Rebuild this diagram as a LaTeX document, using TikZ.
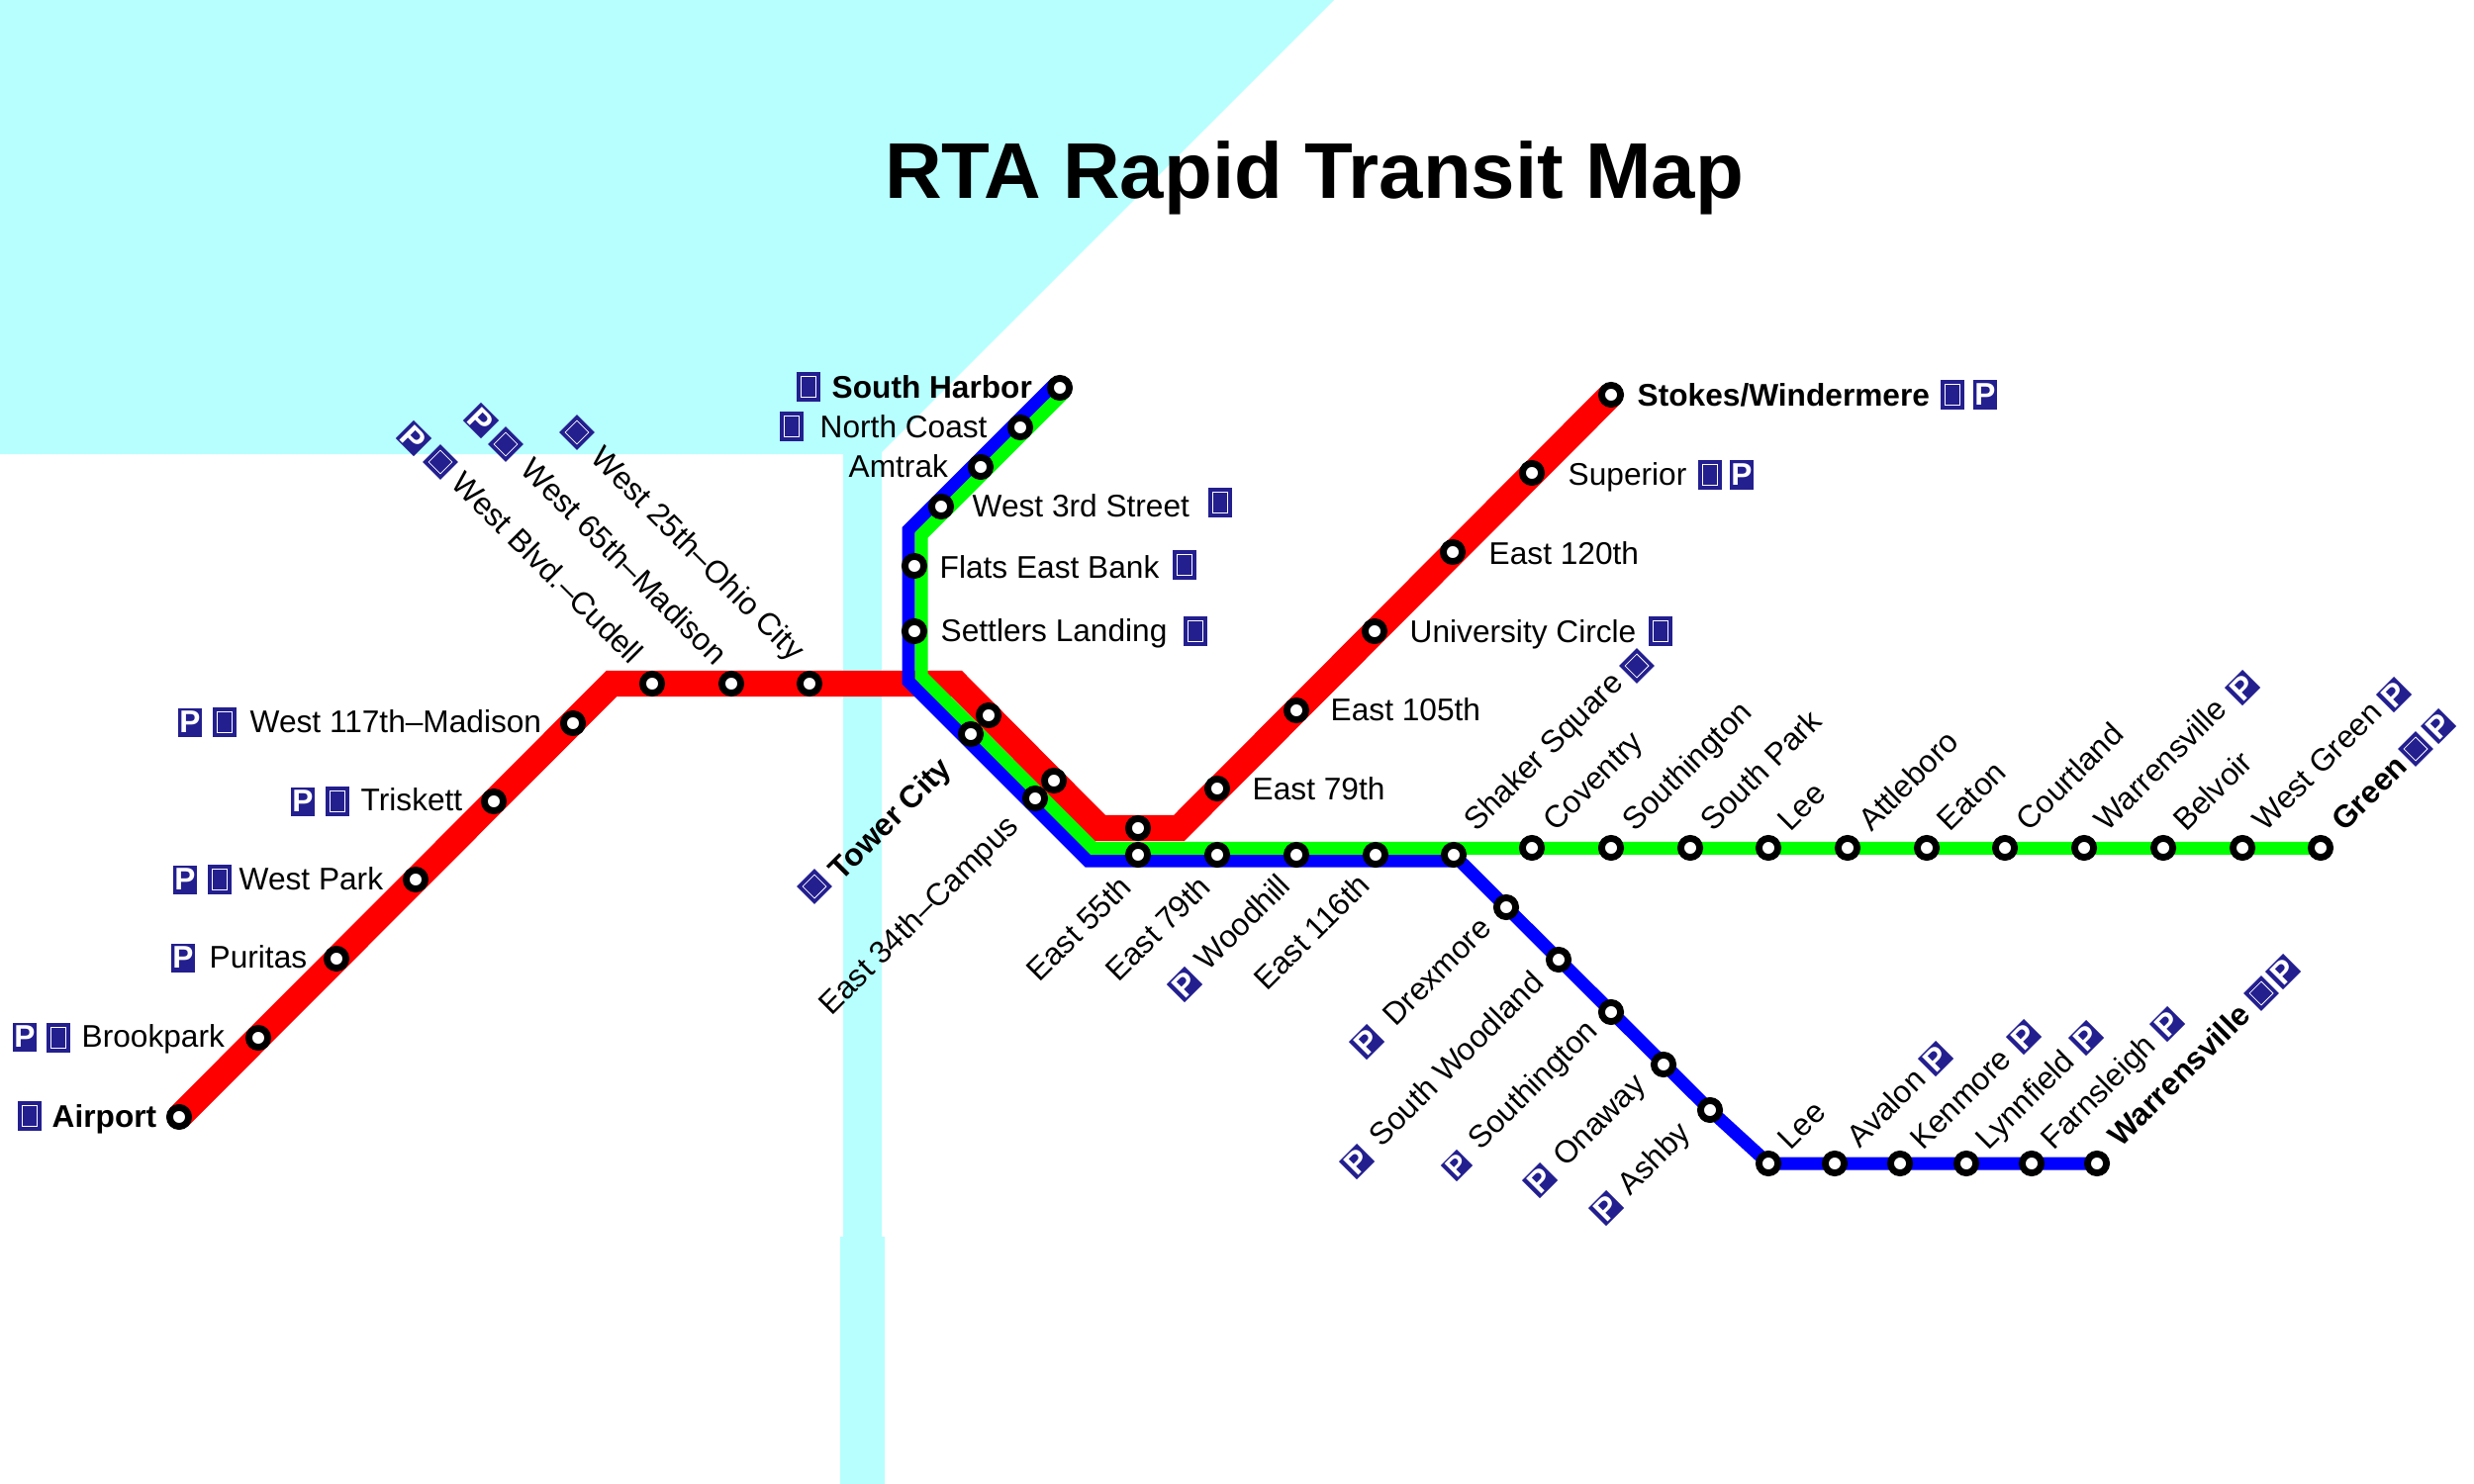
\documentclass[tikz,border=0pt]{standalone}
\usepackage{fontspec}
\setmainfont{Liberation Sans}
\usetikzlibrary{backgrounds,positioning}
\definecolor{waterc}{HTML}{B7FFFF}
\definecolor{iconc}{HTML}{231F8F}
\tikzset{
  station/.style={circle, draw=black, fill=white, line width=1.95pt, minimum size=5.45pt, inner sep=0pt},
  lab/.style={anchor=base west, inner sep=0pt, font=\fontsize{9}{11}\selectfont},
  labup/.style={lab, rotate=45},
  labdown/.style={lab, rotate=-45},
  tkt/.style={rectangle, fill=iconc, draw=iconc, double=white, double distance=.22pt, line width=1.1pt, inner sep=0pt, minimum width=4.4pt, minimum height=5.85pt},
  tktd/.style={tkt, minimum width=4.8pt, minimum height=4.8pt},
  park/.style={rectangle, fill=iconc, text=white, inner sep=0pt, minimum width=6.83pt, minimum height=8.25pt, font=\fontsize{9}{9}\selectfont\bfseries},
  parkd/.style={park, minimum width=7.25pt, minimum height=7.25pt},
  redline/.style={draw=red, line width=7.4pt},
  blueline/.style={draw=blue, line width=3.7pt},
  greenline/.style={draw=green, line width=3.7pt}
}
\begin{document}
\begin{tikzpicture}[x=0.01cm, y=-0.01cm]
  \useasboundingbox (0,0) rectangle (2500,1500);
  \node[font=\fontsize{22.7}{26}\selectfont\bfseries, anchor=base, inner sep=0pt] (title) at (1328,201) {RTA Rapid Transit Map};

  % red line stations
  \node[station] (airport) at (181,1129) {};
  \node[station] (brookpark) at (261,1049) {};
  \node[station] (puritas) at (340,969) {};
  \node[station] (westpark) at (420,889) {};
  \node[station] (triskett) at (499,810) {};
  \node[station] (w117) at (579,731) {};
  \node[station] (cudell) at (659,691) {};
  \node[station] (w65) at (739,691) {};
  \node[station] (w25) at (818,691) {};
  \node[station] (towerR) at (999,723) {};
  \node[station] (e34R) at (1065,789) {};
  \node[station] (e55R) at (1150,837) {};
  \node[station] (e79R) at (1230,797) {};
  \node[station] (e105) at (1310,718) {};
  \node[station] (univ) at (1389,638) {};
  \node[station] (e120) at (1468,558) {};
  \node[station] (superior) at (1548,478) {};
  \node[station] (stokes) at (1628,399) {};

  % waterfront stations
  \node[station] (harbor) at (1071,392) {};
  \node[station] (coast) at (1031,432) {};
  \node[station] (amtrak) at (991,472) {};
  \node[station] (w3rd) at (951,512) {};
  \node[station] (flats) at (924,572) {};
  \node[station] (settlers) at (924,638) {};
  \node[station] (towerB) at (981,742) {};
  \node[station] (e34B) at (1046,807) {};
  \node[station] (e55B) at (1150,864) {};
  \node[station] (e79B) at (1230,864) {};
  \node[station] (woodhill) at (1310,864) {};
  \node[station] (e116) at (1390,864) {};
  \node[station] (shaker) at (1469,864) {};

  % green line stations
  \node[station] (coventry) at (1548,857) {};
  \node[station] (southingG) at (1628,857) {};
  \node[station] (southpark) at (1708,857) {};
  \node[station] (leeG) at (1787,857) {};
  \node[station] (attleboro) at (1867,857) {};
  \node[station] (eaton) at (1947,857) {};
  \node[station] (courtland) at (2026,857) {};
  \node[station] (warrenG) at (2106,857) {};
  \node[station] (belvoir) at (2186,857) {};
  \node[station] (westgreen) at (2266,857) {};
  \node[station] (green) at (2345,857) {};

  % blue line stations
  \node[station] (drexmore) at (1522,917) {};
  \node[station] (woodland) at (1575,970) {};
  \node[station] (southingB) at (1628,1023) {};
  \node[station] (onaway) at (1681,1076) {};
  \node[station] (ashby) at (1728,1122) {};
  \node[station] (leeB) at (1787,1176) {};
  \node[station] (avalon) at (1854,1176) {};
  \node[station] (kenmore) at (1920,1176) {};
  \node[station] (lynnfield) at (1987,1176) {};
  \node[station] (farnsleigh) at (2053,1176) {};
  \node[station] (warrenB) at (2119,1176) {};

  \coordinate (rA) at (618,691);
  \coordinate (rB) at (966.6,691);
  \coordinate (rC) at (1111.6,837);
  \coordinate (rD) at (1191.4,837);
  \coordinate (bA) at (1066.4,387.4);
  \coordinate (bB) at (918,535.8);
  \coordinate (bC) at (918,688.7);
  \coordinate (bD) at (1099.3,870);
  \coordinate (bE) at (1469,870);
  \coordinate (gA) at (1075.6,396.6);
  \coordinate (gB) at (931,541);
  \coordinate (gC) at (931,683.3);
  \coordinate (gD) at (1104.7,857.4);
  \coordinate (gE) at (2345,857.4);

  \begin{scope}[on background layer]
    \fill[waterc] (0,0) -- (1348,0) -- (891,457) -- (891,1250) -- (894,1250) -- (894,1500) -- (849,1500) -- (849,1250) -- (852,1250) -- (852,459) -- (0,459) -- cycle;
    \draw[redline] (airport.center) -- (rA) -- (rB) -- (rC) -- (rD) -- (stokes.center);
    \draw[blueline] (bA) -- (bB) -- (bC) -- (bD) -- (bE);
    \draw[blueline] (shaker.center) -- (ashby.center) -- (leeB.center) -- (warrenB.center);
    \draw[greenline] (gA) -- (gB) -- (gC) -- (gD) -- (gE);
  \end{scope}

  % labels to the left of the red line
  \node[lab] (lAirport) at (52,1139) {\textbf{Airport}};
  \node[tkt] (tAirport) at (30,1128) {};
  \node[lab] (lBrookpark) at (82,1058) {Brookpark};
  \node[park] (pBrookpark) at (25,1048) {P};
  \node[tkt] (tBrookpark) at (59,1049) {};
  \node[lab] (lPuritas) at (211,978) {Puritas};
  \node[park] (pPuritas) at (185,968) {P};
  \node[lab] (lWestpark) at (241,899) {West Park};
  \node[park] (pWestpark) at (187,889) {P};
  \node[tkt] (tWestpark) at (222,889) {};
  \node[lab] (lTriskett) at (364,819) {Triskett};
  \node[park] (pTriskett) at (306,810) {P};
  \node[tkt] (tTriskett) at (341,810) {};
  \node[lab] (lW117) at (252,740) {West 117th–Madison};
  \node[park] (pW117) at (192,730) {P};
  \node[tkt] (tW117) at (227,730) {};

  % labels going down to the red line
  \node[labdown] (lW25) at (595,464) {West 25th–Ohio City};
  \node[tktd, rotate=45] (tW25) at (583,437) {};
  \node[labdown] (lW65) at (524,476) {West 65th–Madison};
  \node[parkd, rotate=-45] (pW65) at (486,425) {P};
  \node[tktd, rotate=45] (tW65) at (511,449) {};
  \node[labdown] (lCudell) at (454,490) {West Blvd.–Cudell};
  \node[parkd, rotate=-45] (pCudell) at (418,443) {P};
  \node[tktd, rotate=45] (tCudell) at (445,467) {};

  % waterfront labels
  \node[lab] (lHarbor) at (840,402) {\textbf{South Harbor}};
  \node[tkt] (tHarbor) at (817,391) {};
  \node[lab] (lCoast) at (828,442) {North Coast};
  \node[tkt] (tCoast) at (800,431) {};
  \node[lab] (lAmtrak) at (857,482) {Amtrak};
  \node[lab] (lW3rd) at (982,522) {West 3rd Street};
  \node[tkt] (tW3rd) at (1233,508) {};
  \node[lab] (lFlats) at (949,584) {Flats East Bank};
  \node[tkt] (tFlats) at (1197,571) {};
  \node[lab] (lSettlers) at (950,648) {Settlers Landing};
  \node[tkt] (tSettlers) at (1208,638) {};

  % labels to the right of the red line
  \node[lab] (lStokes) at (1654,410) {\textbf{Stokes/Windermere}};
  \node[tkt] (tStokes) at (1973,399) {};
  \node[park] (pStokes) at (2006,399) {P};
  \node[lab] (lSuperior) at (1584,490) {Superior};
  \node[tkt] (tSuperior) at (1728,480) {};
  \node[park] (pSuperior) at (1760,480) {P};
  \node[lab] (lE120) at (1504,570) {East 120th};
  \node[lab] (lUniv) at (1424,649) {University Circle};
  \node[tkt] (tUniv) at (1678,638) {};
  \node[lab] (lE105) at (1344,728) {East 105th};
  \node[lab] (lE79R) at (1265,808) {East 79th};

  % labels below the trunk
  \node[labup] (lTower) at (850,892) {\textbf{Tower City}};
  \node[tktd, rotate=45] (tTower) at (823,896) {};
  \node[labup] (lE34) at (840,1028) {East 34th–Campus};
  \node[labup] (lE55) at (1050,994) {East 55th};
  \node[labup] (lE79B) at (1130,994) {East 79th};
  \node[labup] (lWoodhill) at (1220,983) {Woodhill};
  \node[parkd, rotate=45] (pWoodhill) at (1197,995) {P};
  \node[labup] (lE116) at (1280,1003) {East 116th};

  % labels above the green line
  \node[labup] (lShaker) at (1492,842) {Shaker Square};
  \node[tktd, rotate=45] (tShaker) at (1654,673) {};
  \node[labup] (lCoventry) at (1572,842) {Coventry};
  \node[labup] (lSouthingG) at (1652,842) {Southington};
  \node[labup] (lSouthpark) at (1731,842) {South Park};
  \node[labup] (lLeeG) at (1809,842) {Lee};
  \node[labup] (lAttleboro) at (1891,842) {Attleboro};
  \node[labup] (lEaton) at (1970,842) {Eaton};
  \node[labup] (lCourtland) at (2050,842) {Courtland};
  \node[labup] (lWarrenG) at (2129,842) {Warrensville};
  \node[parkd, rotate=45] (pWarrenG) at (2266,695) {P};
  \node[labup] (lBelvoir) at (2209,842) {Belvoir};
  \node[labup] (lWestgreen) at (2289,842) {West Green};
  \node[parkd, rotate=45] (pWestgreen) at (2419,702) {P};
  \node[labup] (lGreen) at (2369,842) {\textbf{Green}};
  \node[tktd, rotate=45] (tGreen) at (2441,757) {};
  \node[parkd, rotate=45] (pGreen) at (2464,734) {P};

  % labels of the blue line
  \node[labup] (lDrexmore) at (1410,1039) {Drexmore};
  \node[parkd, rotate=45] (pDrexmore) at (1381,1053) {P};
  \node[labup] (lWoodland) at (1396,1161) {South Woodland};
  \node[parkd, rotate=45] (pWoodland) at (1371,1174) {P};
  \node[labup] (lSouthingB) at (1496,1164) {Southington};
  \node[parkd, rotate=45, minimum width=6.5pt, minimum height=6.5pt, font=\fontsize{8}{8}\selectfont\bfseries] (pSouthingB) at (1472,1178) {P};
  \node[labup] (lOnaway) at (1582,1181) {Onaway};
  \node[parkd, rotate=45] (pOnaway) at (1556,1193) {P};
  \node[labup] (lAshby) at (1647,1210) {Ashby};
  \node[parkd, rotate=45] (pAshby) at (1623,1221) {P};
  \node[labup] (lLeeB) at (1809,1164) {Lee};
  \node[labup] (lAvalon) at (1879,1162) {Avalon};
  \node[parkd, rotate=45] (pAvalon) at (1956,1070) {P};
  \node[labup] (lKenmore) at (1943,1164) {Kenmore};
  \node[parkd, rotate=45] (pKenmore) at (2045,1048) {P};
  \node[labup] (lLynnfield) at (2009,1164) {Lynnfield};
  \node[parkd, rotate=45] (pLynnfield) at (2108,1049) {P};
  \node[labup] (lFarnsleigh) at (2075,1164) {Farnsleigh};
  \node[parkd, rotate=45] (pFarnsleigh) at (2190,1035) {P};
  \node[labup] (lWarrenB) at (2143,1161) {\textbf{Warrensville}};
  \node[tktd, rotate=45] (tWarrenB) at (2285,1004) {};
  \node[parkd, rotate=45] (pWarrenB) at (2307,982) {P};
\end{tikzpicture}
\end{document}
